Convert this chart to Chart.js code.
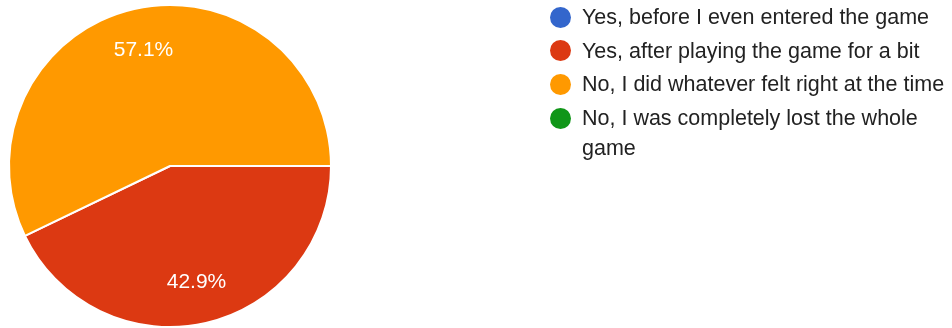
<!DOCTYPE html>
<html>
<head>
<meta charset="utf-8">
<script src="https://cdn.jsdelivr.net/npm/chart.js@4/dist/chart.umd.min.js"></script>
<style>
  html, body { margin: 0; padding: 0; background: #ffffff; }
  #wrap { position: relative; width: 952px; height: 328px; overflow: hidden; }
  #chart { position: absolute; left: 0; top: 0; }
  #legend { position: absolute; left: 550px; top: 2px; width: 402px;
            font-family: "Liberation Sans", Arial, sans-serif; font-size: 21.5px; color: #222222; }
  .item { position: relative; padding-left: 32px; line-height: 30px; margin-bottom: 3.7px; width: 368px; }
  .dot { position: absolute; left: 0; top: 4.5px; width: 21px; height: 21px; border-radius: 50%; }
</style>
</head>
<body>
<div id="wrap">
  <canvas id="chart" width="952" height="328"></canvas>
  <div id="legend"></div>
</div>
<script>
const categories = [
  "Yes, before I even entered the game",
  "Yes, after playing the game for a bit",
  "No, I did whatever felt right at the time",
  "No, I was completely lost the whole game"
];
const responses = [0, 3, 4, 0];
const sliceColors = ["#3366CC", "#DC3912", "#FF9900", "#109618"];

const labelPlugin = {
  id: 'sliceLabels',
  afterDatasetsDraw(chart) {
    const ctx = chart.ctx;
    const meta = chart.getDatasetMeta(0);
    const data = chart.data.datasets[0].data;
    const total = data.reduce((a, b) => a + b, 0);
    ctx.save();
    ctx.fillStyle = '#ffffff';
    ctx.font = '21px "Liberation Sans", Arial, sans-serif';
    ctx.textAlign = 'center';
    ctx.textBaseline = 'middle';
    meta.data.forEach((arc, i) => {
      if (!data[i]) return;
      const p = arc.getProps(['x', 'y', 'startAngle', 'endAngle', 'outerRadius'], true);
      const mid = (p.startAngle + p.endAngle) / 2;
      const d = p.outerRadius * 0.74;
      const txt = (data[i] / total * 100).toFixed(1) + '%';
      ctx.fillText(txt, p.x + Math.cos(mid) * d, p.y + Math.sin(mid) * d);
    });
    ctx.restore();
  }
};

new Chart(document.getElementById('chart'), {
  type: 'pie',
  data: {
    labels: categories,
    datasets: [{
      data: responses,
      backgroundColor: sliceColors,
      borderColor: '#ffffff',
      borderWidth: 2
    }]
  },
  options: {
    responsive: false,
    animation: false,
    rotation: 90,
    layout: { padding: { left: 8, right: 620, top: 4, bottom: 0 } },
    plugins: { legend: { display: false }, tooltip: { enabled: false } }
  },
  plugins: [labelPlugin]
});

const legend = document.getElementById('legend');
categories.forEach((c, i) => {
  const item = document.createElement('div');
  item.className = 'item';
  const dot = document.createElement('span');
  dot.className = 'dot';
  dot.style.background = sliceColors[i];
  item.appendChild(dot);
  item.appendChild(document.createTextNode(c));
  legend.appendChild(item);
});
</script>
</body>
</html>
